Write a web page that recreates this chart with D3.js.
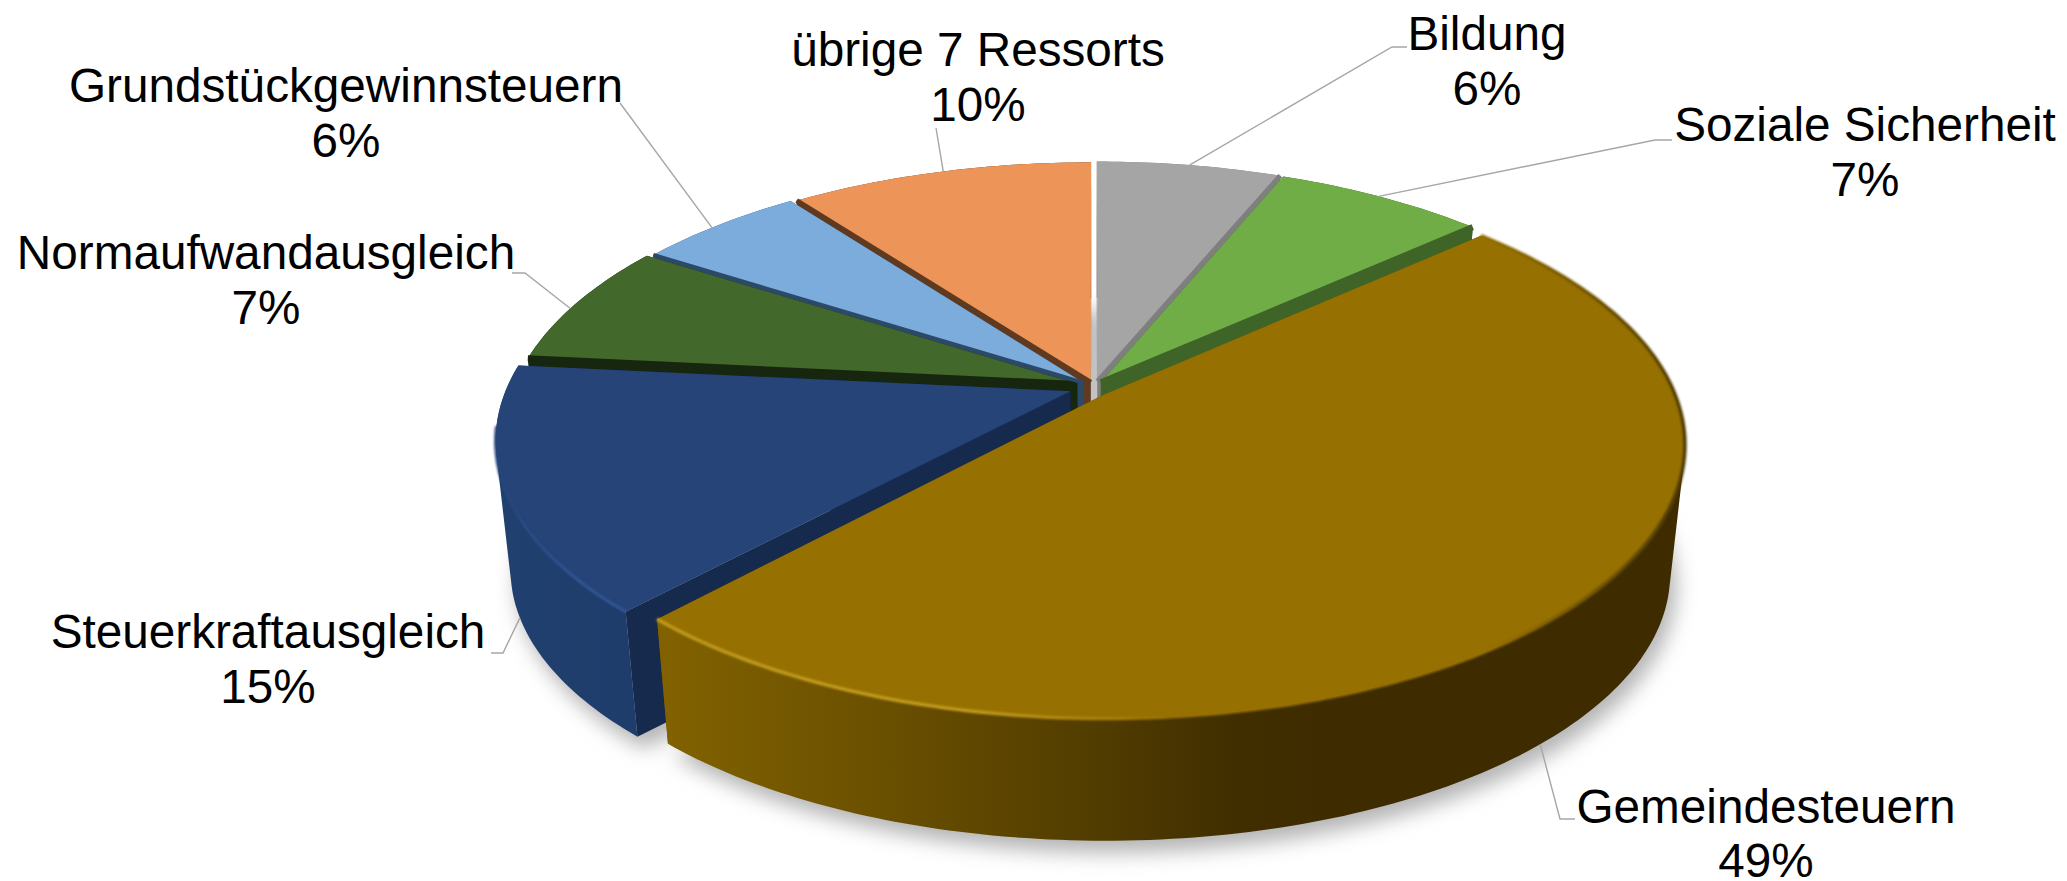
<!DOCTYPE html>
<html><head><meta charset="utf-8">
<script src="https://cdnjs.cloudflare.com/ajax/libs/d3/7.8.5/d3.min.js"></script>
<style>html,body{margin:0;padding:0;background:#fff}svg{display:block}text{font-family:"Liberation Sans",Arial,sans-serif;font-size:47.7px;fill:#000}</style>
</head><body><svg id="c" width="2067" height="881"></svg>
<script>
// Data
const categories = ["Bildung","Soziale Sicherheit","Gemeindesteuern","Steuerkraftausgleich","Normaufwandausgleich","Grundstückgewinnsteuern","übrige 7 Ressorts"];
const shares = [6.2,7.1,48.6,14.7,7.5,5.7,10.2];
const percentLabels = ["6%","7%","49%","15%","7%","6%","10%"];
const faceColors = ["#A5A5A5","#70AD47","#967000","#264478","#43682B","#7BACDC","#ED9559"];
const cutColors = ["#7f7f7f","#3f6428","#6b5000","#152A4D","#17270F","#2C4A68","#5F3A20"];
// per-slice displacement in disc units: sideways, depth, radius
const offsetX = [0.008,0.014,0.018,-0.04,-0.028,-0.016,-0.004];
const offsetZ = [0.018,0.014,-0.034,-0.02,0.008,0.012,0.014];
const radius  = [1,1,1.01,1,1,1,1];

// Projection of the tilted disc (perspective)
const P = {cx:1093, cy:386, m:563, p:260, q:0.176, depth:130.5, shrink:0.975};
function proj(X,Z,bottom){
  const w = 1+P.q*Z;
  const x = P.m*X/w, y = -P.p*Z/w;
  return bottom ? [P.cx+x*P.shrink, P.cy+P.depth+y*P.shrink] : [P.cx+x, P.cy+y];
}
const svg = d3.select("#c");
const defs = svg.append("defs");
defs.append("filter").attr("id","blur").attr("x","-20%").attr("y","-20%").attr("width","140%").attr("height","140%")
  .append("feGaussianBlur").attr("stdDeviation",10);
defs.append("filter").attr("id","soft").attr("x","-5%").attr("y","-5%").attr("width","110%").attr("height","110%")
  .append("feGaussianBlur").attr("stdDeviation",1.3);
function grad(id,x1,x2,stops){
  const g = defs.append("linearGradient").attr("id",id).attr("gradientUnits","userSpaceOnUse")
    .attr("x1",x1).attr("x2",x2).attr("y1",0).attr("y2",0);
  stops.forEach(s=>g.append("stop").attr("offset",s[0]).attr("stop-color",s[1]));
}
grad("wallGold",660,1340,[[0,"#826200"],[0.3,"#6c5100"],[0.6,"#553f00"],[0.85,"#402e00"],[1,"#3e2c00"]]);
grad("rimGold",660,1690,[[0,"#c09a1c"],[0.3,"#c09a1c"],[0.5,"#967000"],[0.8,"#967000"],[1,"#4e3a00"]]);
grad("wallBlue",500,700,[[0,"#20406f"],[1,"#1e3b69"]]);
grad("rimBlue",500,660,[[0,"#264478"],[0.5,"#2f5493"],[1,"#2f5493"]]);

const line = d3.line();
const pie = d3.pie().sort(null).value(d=>d.v).startAngle(0).endAngle(2*Math.PI);
const slices = pie(categories.map((n,i)=>({n,v:shares[i],i})));

function geom(s){
  const i = s.data.i, mid=(s.startAngle+s.endAngle)/2, r=radius[i];
  const ox=offsetX[i], oz=offsetZ[i];
  const n=Math.max(8,Math.ceil((s.endAngle-s.startAngle)*60));
  const angs=d3.range(n+1).map(k=>s.startAngle+(s.endAngle-s.startAngle)*k/n);
  const arc=b=>angs.map(a=>proj(ox+r*Math.sin(a),oz+r*Math.cos(a),b));
  return {i,mid,top:arc(false),bot:arc(true),apexT:proj(ox,oz,false),apexB:proj(ox,oz,true)};
}
const geoms = slices.map(geom);
const at = (g,f)=>g.top[Math.round(f*(g.top.length-1))];
// outer wall as a run of quads, so that its silhouette is the true tangent between both rims
function wallPath(g){
  return d3.range(g.top.length-1).map(k=>{
    const q=[g.top[k],g.top[k+1],g.bot[k+1],g.bot[k]];
    const area=d3.polygonArea(q);
    return line(area>0?q:q.reverse())+"Z";
  }).join("");
}

// floor shadow
svg.append("g").attr("filter","url(#blur)").attr("transform","translate(6,12)")
 .selectAll("path").data(geoms).join("path")
 .attr("d",g=>line([g.apexB,...g.bot])+"Z").attr("fill","#b4b4b4");

function drawSlice(g){
  const G=svg.append("g");
  const wall = g.i===2?"url(#wallGold)":g.i===3?"url(#wallBlue)":cutColors[g.i];
  G.append("path").attr("d",line([g.apexT,g.top[0],g.bot[0],g.apexB])+"Z").attr("fill",cutColors[g.i]);
  G.append("path").attr("d",line([g.apexT,g.top[g.top.length-1],g.bot[g.bot.length-1],g.apexB])+"Z").attr("fill",cutColors[g.i]);
  G.append("path").attr("d",wallPath(g)).attr("fill",wall);
  G.append("path").attr("d",line([g.apexT,...g.top])+"Z").attr("fill",faceColors[g.i]);
  if(g.i===2) G.append("path").attr("d",line(g.top)).attr("fill","none").attr("stroke","url(#rimGold)").attr("stroke-width",3.5).attr("filter","url(#soft)");
  if(g.i===3) G.append("path").attr("d",line(g.top.slice(0,Math.ceil(g.top.length*0.75)))).attr("fill","none").attr("stroke","url(#rimBlue)").attr("stroke-width",3).attr("filter","url(#soft)");
}
// painter order, back to front, gold last
const order = geoms.slice().sort((a,b)=>Math.cos(b.mid)-Math.cos(a.mid));
order.filter(g=>g.i!==2).forEach(drawSlice);
// thin visible cut faces along the slice edges
const edges = [{i:0,end:true,w:5},{i:1,end:true,w:6},{i:4,end:false,w:6},{i:5,end:false,w:4},{i:6,end:false,w:5}];
edges.forEach(e=>{
  const g=geoms[e.i], p=e.end?g.top[g.top.length-1]:g.top[0];
  svg.append("path").attr("d",line([g.apexT,p])).attr("stroke",cutColors[e.i]).attr("stroke-width",e.w).attr("fill","none");
});
drawSlice(geoms[2]);

// labels, in the order of categories: anchor fraction along the slice arc, elbow points, text centre and first baseline
const layout = [
 {f:0.48,pts:[[1392,47],[1407,47]], tx:1487, ty:50},
 {f:0.48,pts:[[1655,140],[1672,140]], tx:1865, ty:141},
 {f:0.51,pts:[[1560,819],[1575,819]], tx:1766, ty:823},
 {f:0.5, pts:[[503,653],[491,653]], tx:268, ty:648},
 {f:0.45,pts:[[525,273],[512,273]], tx:266, ty:269},
 {f:0.47,pts:[[620,103]], tx:346, ty:102},
 {f:0.5, pts:[[936,128]], tx:978, ty:66}
];
const leaders = svg.append("g");
const labels = svg.append("g");
layout.forEach((L,i)=>{
  const g=geoms[i];
  const start = i===2||i===3 ? g.bot[Math.round(L.f*(g.bot.length-1))] : at(g,L.f);
  leaders.append("path").attr("d",line([start,...L.pts])).attr("fill","none").attr("stroke","#a6a6a6").attr("stroke-width",1.4);
  labels.append("text").attr("x",L.tx).attr("y",L.ty).attr("text-anchor","middle").text(categories[i]);
  labels.append("text").attr("x",L.tx).attr("y",L.ty+(i===2?54:55)).attr("text-anchor","middle").text(percentLabels[i]);
});
</script></body></html>
